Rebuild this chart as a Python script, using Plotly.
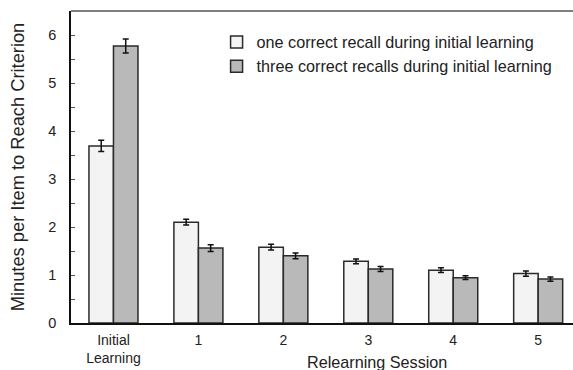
import plotly.graph_objects as go

# Session labels and mean minutes per item (with standard errors)
categories = ["Initial<br>Learning", "1", "2", "3", "4", "5"]
one_recall = [3.69, 2.10, 1.58, 1.285, 1.10, 1.03]
one_recall_err = [0.115, 0.06, 0.06, 0.05, 0.05, 0.055]
three_recalls = [5.77, 1.56, 1.40, 1.125, 0.945, 0.915]
three_recalls_err = [0.145, 0.07, 0.06, 0.05, 0.04, 0.045]

series_names = [
    "one correct recall during initial learning",
    "three correct recalls during initial learning",
]

FONT = "Liberation Sans, Arial, Helvetica, sans-serif"
x_pos = list(range(len(categories)))

fig = go.Figure()
fig.add_trace(go.Bar(
    x=x_pos, y=one_recall, name=series_names[0],
    marker=dict(color="#f3f3f3", line=dict(color="#2a2a2a", width=1.5)),
    error_y=dict(type="data", array=one_recall_err, color="#111111",
                 thickness=1.5, width=3),
))
fig.add_trace(go.Bar(
    x=x_pos, y=three_recalls, name=series_names[1],
    marker=dict(color="#b9b9b9", line=dict(color="#2a2a2a", width=1.5)),
    error_y=dict(type="data", array=three_recalls_err, color="#111111",
                 thickness=1.5, width=3),
))

fig.update_layout(
    width=573, height=370,
    margin=dict(l=71, r=0, t=11, b=47),
    paper_bgcolor="white", plot_bgcolor="white",
    barmode="group", bargap=0.423, bargroupgap=0,
    font=dict(family=FONT, color="#222222", size=14),
    showlegend=True,
    legend=dict(
        x=0.29, y=0.955, xanchor="left", yanchor="top",
        bgcolor="rgba(0,0,0,0)", font=dict(size=16.2, family=FONT),
        tracegroupgap=0, itemwidth=30,
    ),
    xaxis=dict(
        range=[-0.5, 5.41], tickmode="array", tickvals=x_pos,
        ticktext=categories, showgrid=False, zeroline=False,
        showline=True, linecolor="#111111", linewidth=1.5,
        ticks="", tickfont=dict(size=14, family=FONT), ticklabelstandoff=3,
    ),
    yaxis=dict(
        range=[0, 6.5], dtick=1, tick0=0, showgrid=False, zeroline=False,
        showline=True, linecolor="#111111", linewidth=1.5,
        ticks="inside", ticklen=4, tickcolor="#555555", tickwidth=1,
        minor=dict(dtick=0.5, ticks="inside", ticklen=4,
                   tickcolor="#555555", tickwidth=1),
        tickfont=dict(size=14.5, family=FONT), ticklabelstandoff=10,
        title=dict(text="Minutes per Item to Reach Criterion",
                   font=dict(size=18.3, family=FONT), standoff=19),
    ),
    shapes=[dict(type="line", xref="paper", yref="paper", x0=0, x1=1,
                 y0=1, y1=1, line=dict(color="#555555", width=1.5))],
    annotations=[dict(text="Relearning Session", xref="x", yref="paper",
                      x=3.1, y=0, yshift=-39, showarrow=False,
                      yanchor="middle", font=dict(size=16.2, family=FONT))],
)

fig.write_html("out.html")
